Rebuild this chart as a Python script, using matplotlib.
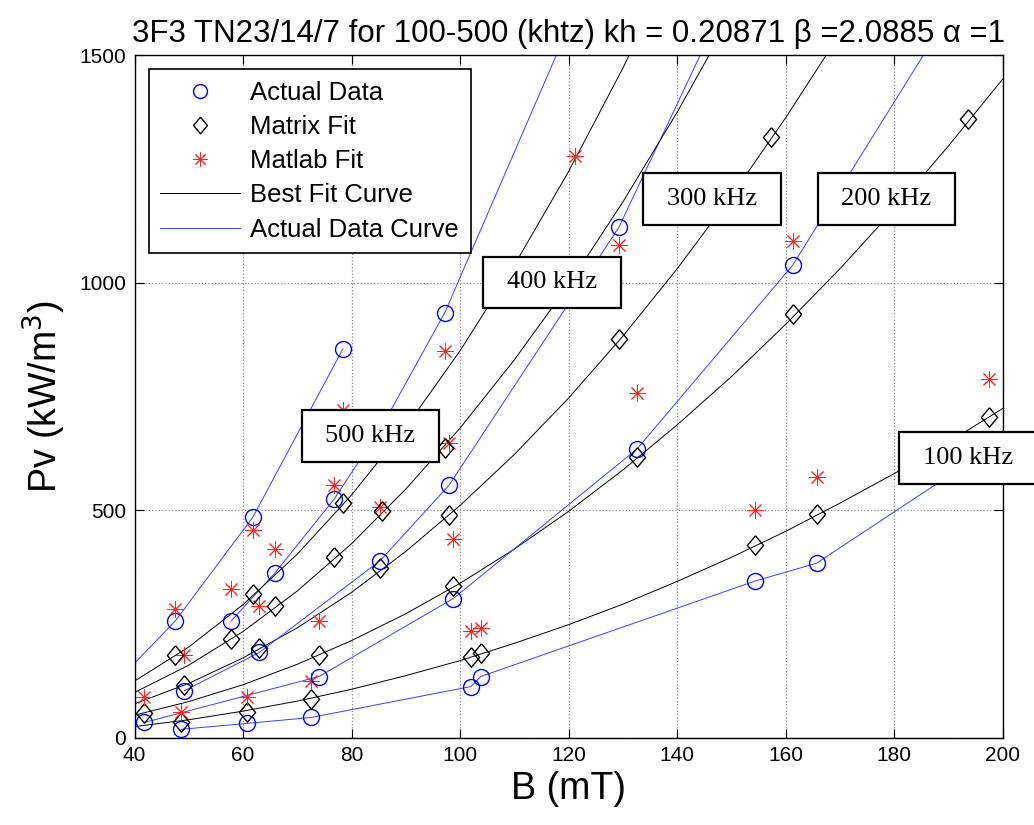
import numpy as np
import matplotlib.pyplot as plt
from matplotlib.lines import Line2D
from matplotlib.patches import Rectangle

plt.rcParams['font.family'] = ['Liberation Sans', 'DejaVu Sans']

# B in mT, Pv in kW/m^3 (some sit outside the axes / under the labels)
B_100 = [48.6, 60.7, 72.5, 102.0, 103.8, 154.4, 165.7, 197.4]
act_100 = [19, 32, 45, 113, 135, 345, 384, 634]
mat_100 = [36, 58, 85, 177, 187, 424, 492, 705]
mlb_100 = [58, 91, 126, 234, 242, 502, 574, 788]

B_200 = [41.8, 74.0, 98.7, 132.6, 161.3, 193.7]
act_200 = [34, 135, 306, 635, 1039, 1660]
mat_200 = [54, 182, 333, 618, 931, 1361]
mlb_200 = [89, 258, 437, 759, 1092, 1720]

B_300 = [49.2, 63.0, 85.3, 98.0, 129.3, 157.3]
act_300 = [104, 188, 390, 556, 1123, 1830]
mat_300 = [116, 197, 373, 490, 877, 1321]
mlb_300 = [182, 289, 508, 649, 1083, 1650]

B_400 = [57.8, 65.9, 76.8, 85.6, 97.2, 121.1]
act_400 = [257, 363, 525, 685, 935, 1593]
mat_400 = [218, 289, 397, 498, 638, 1016]
mlb_400 = [327, 415, 556, 680, 851, 1280]

B_500 = [37.5, 47.5, 61.8, 78.4]
act_500 = [133, 257, 485, 855]
mat_500 = [110, 182, 316, 517]
mlb_500 = [150, 283, 458, 721]

# best fit curves, read every 10 mT until they leave the top of the plot
B_fit = [40, 50, 60, 70, 80, 90, 100, 110, 120, 130, 140, 150, 160, 170, 180, 190, 200]
fit_100 = [25, 40, 59, 81, 107, 137, 170, 208, 249, 294, 344, 397, 454, 516, 581, 650, 724]
fit_200 = [50, 80, 117, 162, 214, 273, 340, 415, 498, 589, 688, 794, 909, 1031, 1162, 1301, 1448]
fit_300 = [75, 120, 176, 242, 320, 410, 511, 623, 747, 883, 1031, 1191, 1363, 1547]
fit_400 = [100, 160, 234, 323, 427, 547, 681, 831, 996, 1178, 1375, 1588]
fit_500 = [125, 200, 293, 404, 534, 683, 851, 1039, 1245, 1472, 1719]

labels = ['100 kHz', '200 kHz', '300 kHz', '400 kHz', '500 kHz']
label_pos = [(193.6, 616), (178.6, 1184), (146.4, 1184), (116.9, 1001), (83.5, 664)]

series = [(B_100, act_100, mat_100, mlb_100, fit_100),
          (B_200, act_200, mat_200, mlb_200, fit_200),
          (B_300, act_300, mat_300, mlb_300, fit_300),
          (B_400, act_400, mat_400, mlb_400, fit_400),
          (B_500, act_500, mat_500, mlb_500, fit_500)]

diamond = [(0, 1.2), (1, 0), (0, -1.2), (-1, 0), (0, 1.2)]
star = (8, 2, 0)
blue_line = '#3b3bff'

fig = plt.figure(figsize=(10.34, 8.25), dpi=100)
ax = fig.add_axes([0.1301, 0.1055, 0.8396, 0.8273])

for B, act, mat, mlb, fit in series:
    ax.plot(B, act, 'o', ms=11.5, mfc='none', mec='blue', mew=1.0, zorder=3)
    ax.plot(B, mat, marker=diamond, ls='none', ms=14, mfc='none', mec='black', mew=1.0, zorder=3)
    ax.plot(B, mlb, marker=star, ls='none', ms=12, mec='#ff2020', mew=0.7, zorder=3)
    ax.plot(B_fit[:len(fit)], fit, '-', color='black', lw=0.7, zorder=2)
    ax.plot(B, act, '-', color=blue_line, lw=0.7, zorder=2)

w, h = 25.4, 114
for lab, (cx, cy) in zip(labels, label_pos):
    ax.add_patch(Rectangle((cx - w / 2, cy - h / 2), w, h, fc='white', ec='black',
                           lw=1.6, zorder=5, clip_on=False))
    ax.text(cx, cy, lab, ha='center', va='center', fontsize=19,
            family='Liberation Serif', zorder=6, clip_on=False)

ax.set_xlim(40, 200)
ax.set_ylim(0, 1500)
ax.set_xticks(np.arange(40, 201, 20))
ax.set_yticks([0, 500, 1000, 1500])
ax.grid(True, ls=':', color='#888888', lw=0.9)
ax.tick_params(direction='in', top=True, right=True, length=6.5, labelsize=15, pad=6)
for s in ax.spines.values():
    s.set_linewidth(1.0)

ax.set_title('3F3 TN23/14/7 for 100-500 (khtz) kh = 0.20871 \u03b2 =2.0885 \u03b1 =1',
             fontsize=22.5, pad=10)
ax.set_xlabel('B (mT)', fontsize=27, labelpad=4)
ax.set_ylabel('Pv (kW/m$^3$)', fontsize=27, labelpad=8)

handles = [
    Line2D([], [], ls='none', marker='o', ms=10, mfc='none', mec='blue'),
    Line2D([], [], ls='none', marker=diamond, ms=12, mfc='none', mec='black'),
    Line2D([], [], ls='none', marker=star, ms=10, mec='#ff2020', mew=0.7),
    Line2D([], [], color='black', lw=0.7),
    Line2D([], [], color=blue_line, lw=0.7),
]
leg = ax.legend(handles, ['Actual Data', 'Matrix Fit', 'Matlab Fit', 'Best Fit Curve', 'Actual Data Curve'],
                loc='upper left', bbox_to_anchor=(148.7 / 1034, 1 - 69 / 825),
                bbox_transform=fig.transFigure, borderaxespad=0, fontsize=18.5,
                fancybox=False, framealpha=1, edgecolor='black', handlelength=3.1,
                handletextpad=0.4, labelspacing=0.4, borderpad=0.45)
leg.get_frame().set_linewidth(1.2)
leg.set_zorder(10)

plt.savefig('out.png')
